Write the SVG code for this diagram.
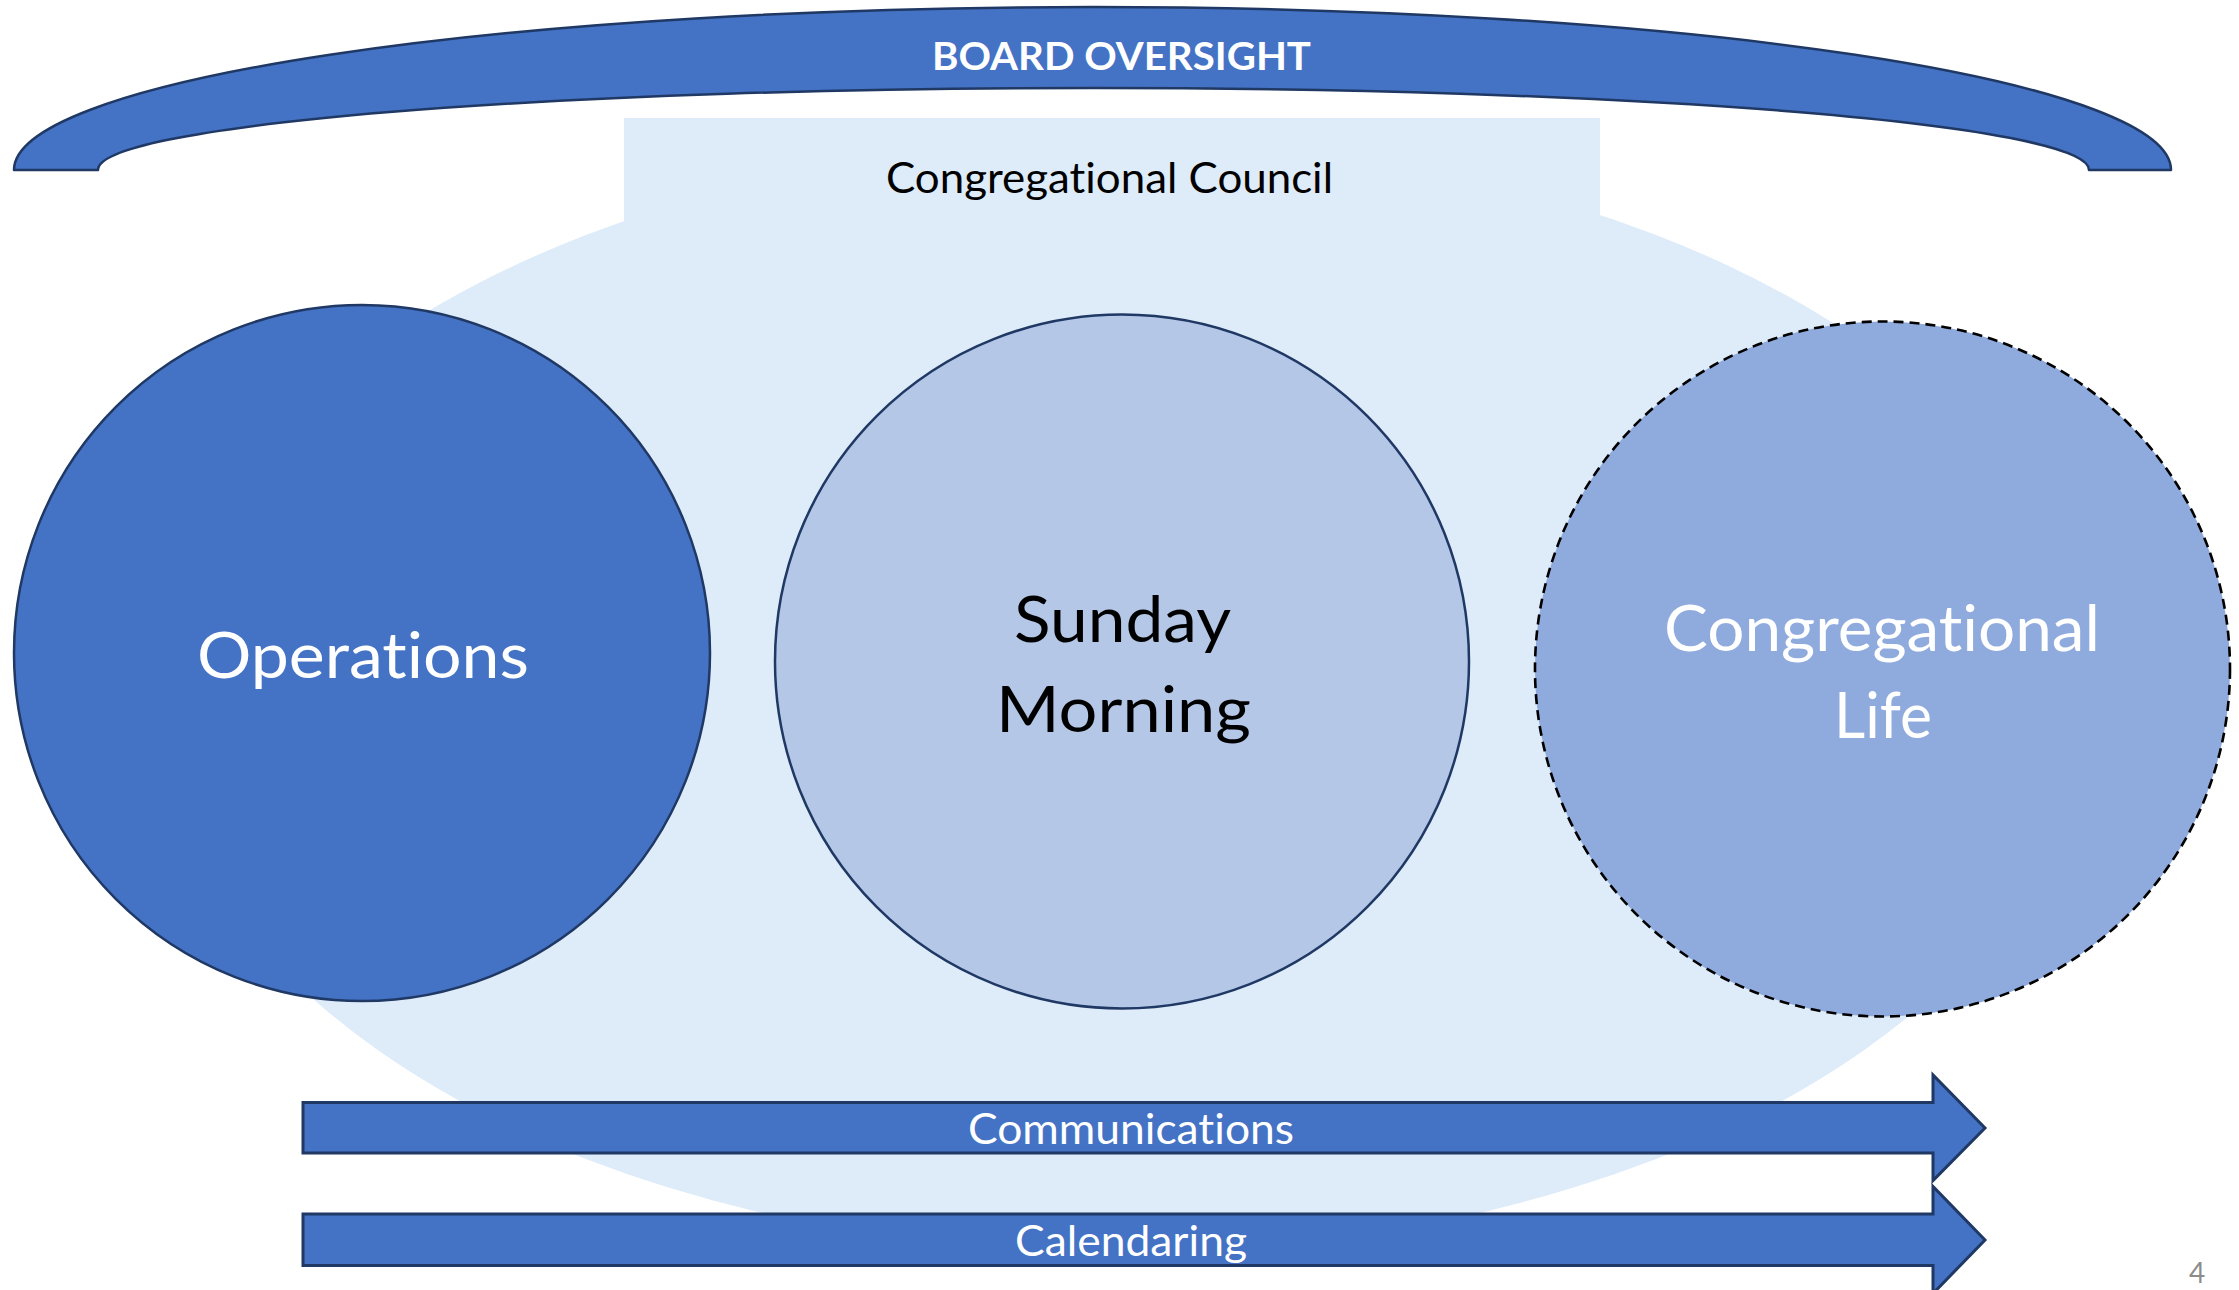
<svg xmlns="http://www.w3.org/2000/svg" width="2239" height="1290" viewBox="0 0 2239 1290">
  <style>
    .light { fill: #DEEBF9; stroke: none; }
    .band { fill: #4472C4; stroke: #1F3864; stroke-width: 2.5; stroke-linejoin: round; }
    .ops { fill: #4472C4; stroke: #1F3864; stroke-width: 2.5; }
    .sun { fill: #B4C7E7; stroke: #1F3864; stroke-width: 2.5; }
    .life { fill: #8FAADC; stroke: #000000; stroke-width: 2.6; stroke-dasharray: 10 6; }
    .arrow { fill: #4472C4; stroke: #1F3864; stroke-width: 3; stroke-linejoin: miter; }
    .t { font-family: Lato, "Liberation Sans", sans-serif; font-variant-ligatures: none; font-feature-settings: "liga" 0, "clig" 0; }
    .big { font-size: 63.5px; }
    .mid { font-size: 42.5px; }
    .w { fill: #FFFFFF; }
    .k { fill: #000000; }
  </style>

  <g id="council">
    <ellipse class="light" cx="1121" cy="697" rx="962" ry="556"/>
    <rect class="light" x="624" y="118" width="976" height="300"/>
    <text class="t mid k" x="886" y="193" textLength="447" lengthAdjust="spacingAndGlyphs">Congregational Council</text>
  </g>

  <g id="board">
    <path class="band" d="M14,170 A1078.5,163 0 0 1 2171,170 L2089,170 A995.5,82 0 0 0 98,170 Z"/>
    <text class="t w" x="932" y="70" font-size="37.7" font-weight="bold" textLength="379" lengthAdjust="spacingAndGlyphs">BOARD OVERSIGHT</text>
  </g>

  <g id="operations">
    <circle class="ops" cx="362" cy="653" r="348"/>
    <text class="t big w" x="197" y="678" textLength="332" lengthAdjust="spacingAndGlyphs">Operations</text>
  </g>

  <g id="sunday-morning">
    <circle class="sun" cx="1122" cy="661.5" r="347"/>
    <text class="t big k" x="1014" y="642" textLength="217" lengthAdjust="spacingAndGlyphs">Sunday</text>
    <text class="t big k" x="996" y="732" textLength="255" lengthAdjust="spacingAndGlyphs">Morning</text>
  </g>

  <g id="congregational-life">
    <circle class="life" cx="1882.5" cy="669" r="347.5"/>
    <text class="t big w" x="1664" y="651" textLength="436" lengthAdjust="spacingAndGlyphs">Congregational</text>
    <text class="t big w" x="1834" y="738" textLength="98" lengthAdjust="spacingAndGlyphs">Life</text>
  </g>

  <g id="communications">
    <path class="arrow" d="M303,1102.5 L1933,1102.5 L1933,1075 L1985,1128 L1933,1180.5 L1933,1153 L303,1153 Z"/>
    <text class="t mid w" x="968" y="1144" textLength="326" lengthAdjust="spacingAndGlyphs">Communications</text>
  </g>

  <g id="calendaring">
    <path class="arrow" d="M303,1214 L1933,1214 L1933,1186.5 L1985,1240 L1933,1293.5 L1933,1265.5 L303,1265.5 Z"/>
    <text class="t mid w" x="1015" y="1256" textLength="232" lengthAdjust="spacingAndGlyphs">Calendaring</text>
  </g>

  <g id="page-number">
    <text class="t" x="2189" y="1283" font-size="28" fill="#8C8C8C">4</text>
  </g>
</svg>
